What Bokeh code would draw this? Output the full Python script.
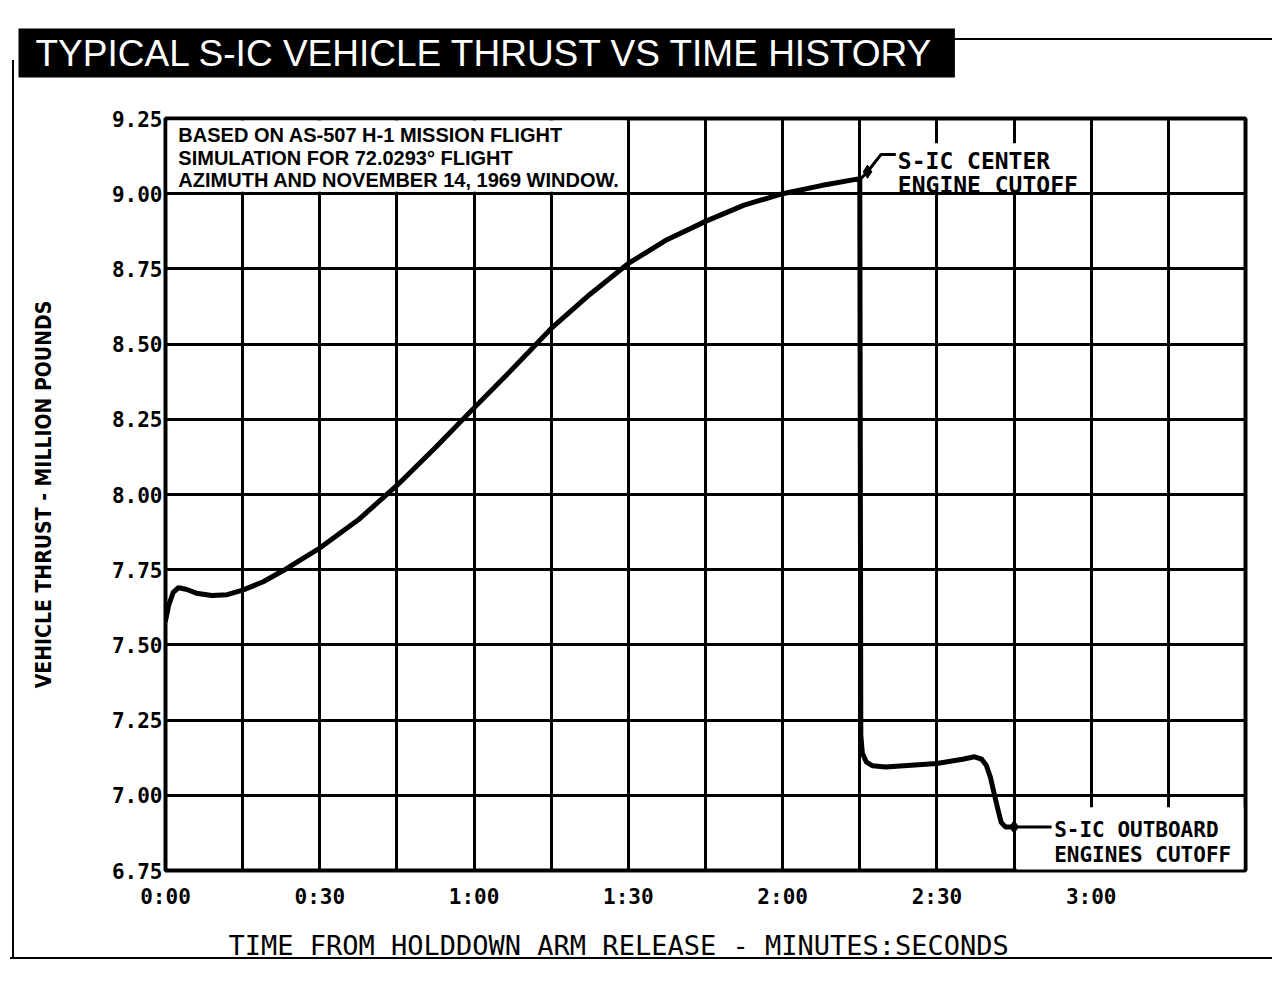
from bokeh.plotting import figure
from bokeh.models import Label, FixedTicker, Range1d, NumeralTickFormatter, Title
from bokeh.embed import file_html
from bokeh.resources import INLINE

# ---------------- data ----------------
time_s = [0.0, 0.6, 1.5, 2.5, 4.0, 6.0, 9.0, 12.0, 15.0, 19.0, 23.0, 26.5,
          30.0, 37.5, 45.0, 52.5, 60.0, 67.5, 75.0, 82.5, 90.0, 97.5, 105.0,
          112.5, 120.0, 127.5, 135.0, 135.2, 135.5, 136.3, 137.5, 140.0,
          145.0, 150.0, 155.0, 157.3, 158.7, 159.6, 160.4, 161.2, 161.9,
          162.5, 163.3, 165.0]
thrust_mlb = [7.58, 7.63, 7.675, 7.69, 7.685, 7.672, 7.664, 7.667, 7.682,
              7.71, 7.748, 7.785, 7.822, 7.916, 8.03, 8.156, 8.288, 8.418,
              8.552, 8.665, 8.768, 8.847, 8.908, 8.962, 9.0, 9.027, 9.05,
              7.20, 7.14, 7.11, 7.098, 7.094, 7.10, 7.106, 7.12, 7.128, 7.12,
              7.10, 7.06, 7.00, 6.95, 6.91, 6.895, 6.895]

x_tick_values = [0, 30, 60, 90, 120, 150, 180]
x_tick_labels = ["0:00", "0:30", "1:00", "1:30", "2:00", "2:30", "3:00"]
y_tick_values = [6.75, 7.0, 7.25, 7.5, 7.75, 8.0, 8.25, 8.5, 8.75, 9.0, 9.25]
x_grid_values = [15, 30, 45, 60, 75, 90, 105, 120, 135, 150, 165, 180, 195]
y_grid_values = [7.0, 7.25, 7.5, 7.75, 8.0, 8.25, 8.5, 8.75, 9.0]

center_cutoff_t = [136.5]
center_cutoff_v = [9.073]
outboard_cutoff_t = [165.0]
outboard_cutoff_v = [6.895]

title_text = "TYPICAL S-IC  VEHICLE THRUST VS TIME HISTORY"
note_lines = ["BASED ON AS-507 H-1 MISSION FLIGHT",
              "SIMULATION FOR 72.0293\u00b0 FLIGHT",
              "AZIMUTH AND NOVEMBER 14, 1969 WINDOW."]
center_label = ["S-IC CENTER", "ENGINE CUTOFF"]
outboard_label = ["S-IC OUTBOARD", "ENGINES CUTOFF"]
x_title = "TIME FROM HOLDDOWN ARM RELEASE - MINUTES:SECONDS"
y_title = "VEHICLE THRUST - MILLION POUNDS"

# ---------------- figure ----------------
page_lines = {
    "background-image": "linear-gradient(#000,#000), linear-gradient(#000,#000), linear-gradient(#000,#000)",
    "background-size": "2px 898px, 1280px 2px, 340px 2px",
    "background-position": "12px 60px, 10px 957px, 940px 38px",
    "background-repeat": "no-repeat",
}

p = figure(width=1272, height=980, x_range=Range1d(0, 210),
           y_range=Range1d(6.75, 9.25), output_backend="svg",
           toolbar_location=None, min_border_left=165, min_border_right=27,
           min_border_top=118, min_border_bottom=107,
           background_fill_color="white", border_fill_color="white",
           border_fill_alpha=0.0, styles=page_lines)
p.outline_line_color = "black"
p.outline_line_width = 4
p.outline_line_alpha = 1.0

tick_font = "DejaVu Sans Mono"
p.xaxis.ticker = FixedTicker(ticks=x_tick_values)
p.xaxis.major_label_overrides = {v: s for v, s in zip(x_tick_values, x_tick_labels)}
p.yaxis.ticker = FixedTicker(ticks=y_tick_values)
p.yaxis.formatter = NumeralTickFormatter(format="0.00")
for ax in (p.xaxis, p.yaxis):
    ax.axis_line_color = None
    ax.major_tick_line_color = None
    ax.minor_tick_line_color = None
    ax.major_tick_out = 0
    ax.major_tick_in = 0
    ax.major_label_text_font = tick_font
    ax.major_label_text_font_style = "bold"
    ax.major_label_text_font_size = "21px"
    ax.major_label_text_color = "black"
p.xaxis.major_label_standoff = 14
p.yaxis.major_label_standoff = 3

p.yaxis.axis_label = y_title
p.yaxis.axis_label_text_font = "DejaVu Sans Condensed, Roboto"
p.yaxis.axis_label_text_font_style = "bold"
p.yaxis.axis_label_text_font_size = "21px"
p.yaxis.axis_label_text_color = "black"
p.yaxis.axis_label_standoff = 53

p.xgrid.ticker = FixedTicker(ticks=x_grid_values)
p.ygrid.ticker = FixedTicker(ticks=y_grid_values)
for g in (p.xgrid, p.ygrid):
    g.grid_line_color = "black"
    g.grid_line_width = 3
    g.grid_line_alpha = 1.0

# spacer between frame and title band, then the title band itself
p.add_layout(Title(text=" ", text_font_size="10px", standoff=28), "above")
p.add_layout(Title(text=title_text, align="left", offset=-147, standoff=0,
                   vertical_align="bottom", text_font="Liberation Sans",
                   text_font_style="normal", text_font_size="37px",
                   text_color="white", background_fill_color="black",
                   background_fill_alpha=1.0,
                   padding=dict(left=17, right=10, top=4, bottom=4)), "above")

# x-axis title, placed like the reference (left of centre)
p.add_layout(Title(text=x_title, align="left", offset=63, standoff=36,
                   vertical_align="top", text_font=tick_font,
                   text_font_style="normal", text_font_size="27px",
                   text_color="black"), "below")

# white panels behind the note and the callout texts
p.quad(left=[0.4], right=[89.6], bottom=[9.0066], top=[9.2434],
       fill_color="white", line_color=None)
p.quad(left=[138.5], right=[179.5], bottom=[9.0066], top=[9.168],
       fill_color="white", line_color=None)
p.quad(left=[165.5], right=[209.6], bottom=[6.7534], top=[6.96],
       fill_color="white", line_color=None)

# thrust curve
p.line(time_s, thrust_mlb, line_color="black", line_width=5,
       line_join="round", line_cap="round")

# callout leaders and markers
p.line([135.2, center_cutoff_t[0], 139.1, 142.0],
       [9.05, center_cutoff_v[0], 9.13, 9.13], line_color="black", line_width=3)
p.line([outboard_cutoff_t[0], 172.3], [outboard_cutoff_v[0], outboard_cutoff_v[0]],
       line_color="black", line_width=3)
p.scatter(center_cutoff_t, center_cutoff_v, marker="diamond", size=13,
          fill_color="black", line_color="black")
p.scatter(outboard_cutoff_t, outboard_cutoff_v, marker="diamond", size=13,
          fill_color="black", line_color="black")

# ---------------- in-frame texts ----------------
for txt, yv in zip(note_lines, [9.194, 9.119, 9.047]):
    p.add_layout(Label(x=2.5, y=yv, text=txt, text_font="Liberation Sans",
                       text_font_style="bold", text_font_size="20px",
                       text_color="black", text_align="left",
                       text_baseline="middle"))

for txt, yv in zip(center_label, [9.108, 9.028]):
    p.add_layout(Label(x=142.4, y=yv, text=txt, text_font=tick_font,
                       text_font_style="bold", text_font_size="23px",
                       text_color="black", text_align="left",
                       text_baseline="middle"))

for txt, yv in zip(outboard_label, [6.883, 6.80]):
    p.add_layout(Label(x=172.8, y=yv, text=txt, text_font=tick_font,
                       text_font_style="bold", text_font_size="21px",
                       text_color="black", text_align="left",
                       text_baseline="middle"))

open("out.html", "w").write(file_html(p, INLINE))
